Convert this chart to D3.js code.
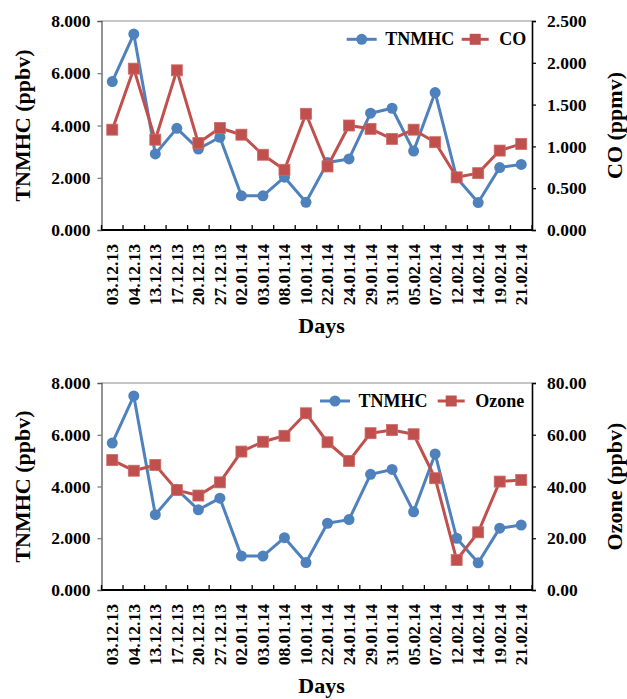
<!DOCTYPE html>
<html>
<head>
<meta charset="utf-8">
<script src="https://cdn.jsdelivr.net/npm/d3@7"></script>
<style>
  html, body { margin: 0; padding: 0; background: #fff; }
  svg { display: block; font-family: "Liberation Serif", "Times New Roman", serif; font-weight: bold; }
</style>
</head>
<body>
<svg id="chart" width="627" height="699"></svg>
<script>
// Sampling dates
const days = ["03.12.13","04.12.13","13.12.13","17.12.13","20.12.13","27.12.13",
  "02.01.14","03.01.14","08.01.14","10.01.14","22.01.14","24.01.14","29.01.14",
  "31.01.14","05.02.14","07.02.14","12.02.14","14.02.14","19.02.14","21.02.14"];

// Total non-methane hydrocarbons (ppbv)
const tnmhc = [5.68,7.50,2.91,3.89,3.10,3.55,1.31,1.31,2.02,1.06,
  2.58,2.72,4.47,4.66,3.02,5.26,2.00,1.05,2.39,2.51];

// Carbon monoxide (ppmv)
const co = [1.20,1.93,1.08,1.91,1.04,1.22,1.14,0.90,0.72,1.39,
  0.76,1.25,1.21,1.09,1.20,1.05,0.63,0.68,0.95,1.03];

// Ozone (ppbv)
const ozone = [50.2,46.1,48.3,38.6,36.5,41.6,53.5,57.3,59.6,68.3,
  57.1,49.9,60.6,61.8,60.2,43.2,11.6,22.3,41.9,42.5];

const leftTicks = [0,2,4,6,8];
const coTicks = [0,0.5,1.0,1.5,2.0,2.5];
const ozoneTicks = [0,20,40,60,80];

const BLUE = "#4F81BD", RED = "#C0504D";
const svg = d3.select("#chart");

function panel(cfg) {
  const left = 101.5, right = 532;
  const g = svg.append("g");

  const x = d3.scaleBand().domain(days).range([left, right]);
  const yL = d3.scaleLinear().domain([0, 8]).range([cfg.bottom, cfg.top]);
  const yR = d3.scaleLinear().domain(cfg.rDomain).range([cfg.bottom, cfg.top]);

  // plot area top border
  g.append("line").attr("x1", left).attr("x2", right)
    .attr("y1", cfg.top).attr("y2", cfg.top)
    .attr("stroke", "#8c8c8c").attr("stroke-width", 1);

  // left axis
  const ax = g.append("g").attr("transform", `translate(${left},0)`)
    .call(d3.axisLeft(yL).tickValues(leftTicks).tickFormat(d3.format(".3f"))
      .tickSize(4).tickPadding(7));
  ax.select(".domain").attr("stroke", "#5a5a5a").attr("stroke-width", 1.3);
  ax.selectAll(".tick line").attr("stroke", "#5a5a5a");
  ax.selectAll("text").attr("font-size", 17.5).attr("font-family", "Liberation Serif")
    .attr("font-weight", "bold").attr("fill", "#000");

  // right axis
  const ar = g.append("g").attr("transform", `translate(${right},0)`)
    .call(d3.axisRight(yR).tickValues(cfg.rTicks).tickFormat(d3.format(cfg.rFormat))
      .tickSize(4).tickPadding(11));
  ar.select(".domain").attr("stroke", "#000").attr("stroke-width", 1.6);
  ar.selectAll(".tick line").attr("stroke", "#000").attr("stroke-width", 1.2);
  ar.selectAll("text").attr("font-size", 17.5).attr("font-family", "Liberation Serif")
    .attr("font-weight", "bold").attr("fill", "#000");

  // category axis: boundaries between days, ticks pointing up
  const bounds = days.map(d => x(d)).concat([right]);
  g.append("line").attr("x1", left).attr("x2", right)
    .attr("y1", cfg.bottom).attr("y2", cfg.bottom)
    .attr("stroke", "#000").attr("stroke-width", 2);
  g.selectAll(".xt").data(bounds).join("line")
    .attr("x1", d => d).attr("x2", d => d)
    .attr("y1", cfg.bottom).attr("y2", cfg.bottom - 5)
    .attr("stroke", "#000").attr("stroke-width", 1.3);
  g.selectAll(".xl").data(days).join("text")
    .attr("transform", d => `translate(${x(d) + x.bandwidth() / 2},${cfg.bottom + 14}) rotate(-90)`)
    .attr("text-anchor", "end").attr("dy", "0.34em")
    .attr("font-size", 17.5).text(d => d);

  // axis titles
  g.append("text")
    .attr("transform", `translate(22,${(cfg.top + cfg.bottom) / 2}) rotate(-90)`)
    .attr("text-anchor", "middle").attr("dominant-baseline", "central")
    .attr("font-size", 22).text("TNMHC (ppbv)");
  g.append("text")
    .attr("transform", `translate(614,${(cfg.top + cfg.bottom) / 2}) rotate(-90)`)
    .attr("text-anchor", "middle").attr("dominant-baseline", "central")
    .attr("font-size", 22).text(cfg.rTitle);
  g.append("text").attr("x", 321.5).attr("y", cfg.bottom + 103)
    .attr("text-anchor", "middle").attr("font-size", 22).text("Days");

  const cx = d => x(d) + x.bandwidth() / 2;

  // TNMHC series
  const lineL = d3.line().x((v, i) => cx(days[i])).y(v => yL(v));
  const lineR = d3.line().x((v, i) => cx(days[i])).y(v => yR(v));

  const drawRed = () => {
    g.append("path").datum(cfg.rValues).attr("d", lineR)
      .attr("fill", "none").attr("stroke", RED).attr("stroke-width", 3)
      .attr("stroke-linejoin", "round");
    g.selectAll(null).data(cfg.rValues).join("rect")
      .attr("x", (v, i) => cx(days[i]) - 5.5).attr("y", v => yR(v) - 5.5)
      .attr("width", 11).attr("height", 11).attr("fill", RED)
      .attr("stroke", "#cd6a67").attr("stroke-width", 0.8);
  };
  const drawBlue = () => {
    g.append("path").datum(tnmhc).attr("d", lineL)
      .attr("fill", "none").attr("stroke", BLUE).attr("stroke-width", 3)
      .attr("stroke-linejoin", "round");
    g.selectAll(null).data(tnmhc).join("circle")
      .attr("cx", (v, i) => cx(days[i])).attr("cy", v => yL(v))
      .attr("r", 5.5).attr("fill", BLUE);
  };
  drawBlue();
  drawRed();

  // legend
  const L = cfg.legend;
  g.append("line").attr("x1", L.b1).attr("x2", L.b1 + 30).attr("y1", L.y).attr("y2", L.y)
    .attr("stroke", BLUE).attr("stroke-width", 3);
  g.append("circle").attr("cx", L.b1 + 15).attr("cy", L.y).attr("r", 5.5).attr("fill", BLUE);
  g.append("text").attr("x", L.b1 + 38.5).attr("y", L.y).attr("dy", "0.34em")
    .attr("font-size", 18).text("TNMHC");
  g.append("line").attr("x1", L.r1).attr("x2", L.r1 + 27).attr("y1", L.y).attr("y2", L.y)
    .attr("stroke", RED).attr("stroke-width", 3);
  g.append("rect").attr("x", L.r1 + 13.5 - 5.5).attr("y", L.y - 5.5)
    .attr("width", 11).attr("height", 11).attr("fill", RED);
  g.append("text").attr("x", L.r1 + 37.5).attr("y", L.y).attr("dy", "0.34em")
    .attr("font-size", 18).text(cfg.rName);
}

panel({
  top: 21, bottom: 230,
  rDomain: [0, 2.5], rTicks: coTicks, rFormat: ".3f",
  rValues: co, rName: "CO", rTitle: "CO (ppmv)",
  legend: { y: 39.3, b1: 346.7, r1: 461.7 }
});

panel({
  top: 383, bottom: 590,
  rDomain: [0, 80], rTicks: ozoneTicks, rFormat: ".2f",
  rValues: ozone, rName: "Ozone", rTitle: "Ozone (ppbv)",
  legend: { y: 401, b1: 320, r1: 437.7 }
});
</script>
</body>
</html>
